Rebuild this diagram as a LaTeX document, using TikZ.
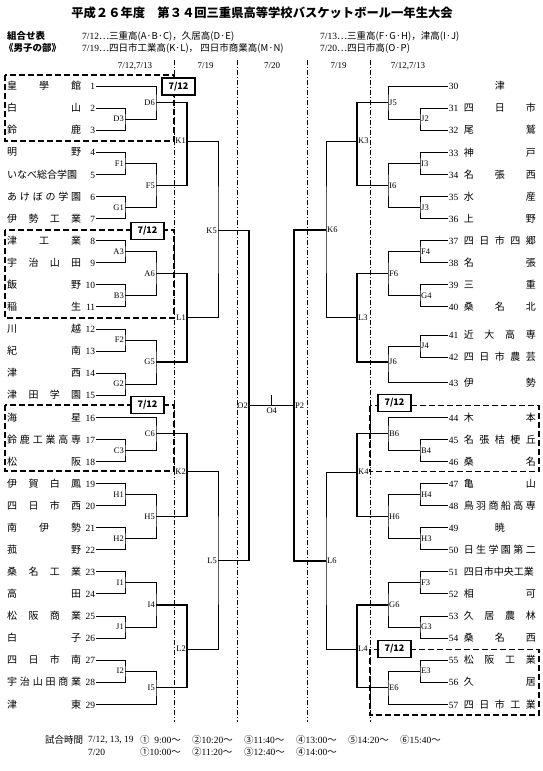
\documentclass[tikz,border=0pt]{standalone}
\usepackage{fontspec}
\setmainfont{Noto Sans CJK JP}
\newfontfamily\latf{Liberation Serif}
\usepackage{tikz}
\usetikzlibrary{positioning}

\begin{document}
\begin{tikzpicture}[x=1pt, y=-1pt,
    team/.style={inner sep=1pt, font=\fontsize{10}{12}\selectfont},
    lblL/.style={anchor=east, inner sep=1pt, font=\latf\fontsize{8.5}{9}\selectfont},
    lblR/.style={anchor=west, inner sep=1pt, font=\latf\fontsize{8.5}{9}\selectfont},
    bline/.style={line width=0.7pt},
    bbold/.style={line width=1.2pt},
    dbox/.style={line width=1.4pt, dash pattern=on 6pt off 3pt},
    sepline/.style={line width=0.8pt, dash pattern=on 5pt off 2pt on 1pt off 2pt},
    daybox/.style={draw, line width=1.3pt, fill=white, minimum width=33pt, minimum height=17pt, inner sep=0pt, font=\bfseries\fontsize{9}{10}\selectfont},
    dayhd/.style={inner sep=0pt, font=\latf\fontsize{9}{10}\selectfont},
    hdtext/.style={anchor=west, inner sep=0pt, font=\fontsize{9.5}{11}\selectfont}]

\useasboundingbox (0,0) rectangle (543,771);

\node[font=\bfseries\fontsize{12.3}{14}\selectfont] (title) at (262,13) {平成２６年度　第３４回三重県高等学校バスケットボール一年生大会};
\node[hdtext, font=\bfseries\fontsize{9.5}{11}\selectfont] (hk1) at (7,36) {組合せ表};
\node[hdtext, font=\bfseries\fontsize{9.5}{11}\selectfont] (hk2) at (4,48) {《男子の部》};
\node[hdtext] (hl1) at (82,36) {{\latf 7/12}…三重高(A·B·C)，久居高(D·E)};
\node[hdtext] (hl2) at (320,36) {{\latf 7/13}…三重高(F·G·H)，津高(I·J)};
\node[hdtext] (hl3) at (82,48) {{\latf 7/19}…四日市工業高(K·L)， 四日市商業高(M·N)};
\node[hdtext] (hl4) at (320,48) {{\latf 7/20}…四日市高(O·P)};

\node[dayhd] (h1) at (135,66) {7/12,7/13};
\node[dayhd] (h2) at (205.5,66) {7/19};
\node[dayhd] (h3) at (272,66) {7/20};
\node[dayhd] (h4) at (338.5,66) {7/19};
\node[dayhd] (h5) at (408,66) {7/12,7/13};

\foreach \x in {174,237,307,370}
    \draw[sepline] (\x,60) -- (\x,722);

\foreach \n/\name in {1/皇 學 館, 2/白 山, 3/鈴 鹿, 4/明 野, 5/いなべ総合学園, 6/あ け ぼ の 学 園,
        7/伊 勢 工 業, 8/津 工 業, 9/宇 治 山 田, 10/飯 野, 11/稲 生, 12/川 越, 13/紀 南, 14/津 西,
        15/津 田 学 園, 16/海 星, 17/鈴 鹿 工 業 高 専, 18/松 阪, 19/伊 賀 白 鳳, 20/四 日 市 西,
        21/南 伊 勢, 22/菰 野, 23/桑 名 工 業, 24/高 田, 25/松 阪 商 業, 26/白 子, 27/四 日 市 南,
        28/宇 治 山 田 商 業, 29/津 東}
    \node[team, anchor=west] (t\n) at (6,{86+22.08*(\n-1)})
        {\makebox[74pt][s]{\name}\hspace{3pt}\makebox[11pt][r]{\latf\fontsize{9.5}{10}\selectfont\n}};

\foreach \n/\r/\name in {30/1/\hfil 津\hfil, 31/2/四 日 市, 32/3/尾 鷲, 33/4/神 戸, 34/5/名 張 西,
        35/6/水 産, 36/7/上 野, 37/8/四 日 市 四 郷, 38/9/名 張, 39/10/三 重, 40/11/桑 名 北,
        41/12.28/近 大 高 専, 42/13.27/四 日 市 農 芸, 43/14.43/伊 勢, 44/16/木 本, 45/17/名 張 桔 梗 丘,
        46/18/桑 名, 47/19/亀 山, 48/20/鳥 羽 商 船 高 専, 49/21/\hfil 暁\hfil, 50/22/日 生 学 園 第 二,
        51/23/四日市中央工業, 52/24/相 可, 53/25/久 居 農 林, 54/26/桑 名 西, 55/27/松 阪 工 業,
        56/28/久 居, 57/29/四 日 市 工 業}
    \node[team, anchor=east] (t\n) at (537,{86+22.08*(\r-1)})
        {\makebox[11pt][l]{\latf\fontsize{9.5}{10}\selectfont\n}\hspace{4pt}\makebox[72pt][s]{\name}};

\foreach \m/\x/\y in {D3/125/119.1, D6/156/102.6, F1/125/163.3, G1/125/207.4, F5/156/185.4, K1/187/141,
        A3/125/251.6, B3/125/295.8, A6/156/273.7, F2/125/339.9, G2/125/384.1, G5/156/362, L1/187/317.8,
        K5/218/230.5, C3/125/450.3, C6/156/433.8, H1/125/494.5, H2/125/538.6, H5/156/516.6, K2/187/471.5,
        I1/125/582.8, J1/125/627, I4/156/604.9, I2/125/671.1, I5/156/687.7, L2/187/649, L5/218/560.5,
        O2/249/405.7}
    {\coordinate (\m) at (\x,\y);
     \node[lblL] (l\m) at (\m) {\m};}

\foreach \m/\x/\y in {J2/420/119.1, J5/388/102.6, I3/420/163.3, J3/420/207.4, I6/388/185.4, K3/357/141,
        F4/420/251.6, G4/420/295.8, F6/388/273.7, J4/420/346, J6/388/362, L3/357/317.8, K6/326/230,
        B4/420/450.3, B6/388/433.8, H4/420/494.5, H3/420/538.6, H6/388/516.6, K4/357/472,
        F3/420/582.8, G3/420/627, G6/388/604.9, E3/420/671.1, E6/388/687.7, L4/357/649, L6/326/561,
        P2/294/405.7}
    {\coordinate (\m) at (\x,\y);
     \node[lblR] (l\m) at (\m) {\m};}

\foreach \a/\m/\b in {t2/D3/t3, t1/D6/D3, t4/F1/t5, t6/G1/t7, F1/F5/G1, t8/A3/t9, t10/B3/t11, A3/A6/B3,
        t12/F2/t13, t14/G2/t15, F2/G5/G2, t17/C3/t18, t16/C6/C3, t19/H1/t20, t21/H2/t22, H1/H5/H2,
        t23/I1/t24, t25/J1/t26, I1/I4/J1, t27/I2/t28, I2/I5/t29, K1/K5/L1, K2/L5/L2,
        t31/J2/t32, t30/J5/J2, t33/I3/t34, t35/J3/t36, I3/I6/J3, t37/F4/t38, t39/G4/t40, F4/F6/G4,
        t41/J4/t42, J4/J6/t43, t45/B4/t46, t44/B6/B4, t47/H4/t48, t49/H3/t50, H4/H6/H3,
        t51/F3/t52, t53/G3/t54, F3/G6/G3, t55/E3/t56, E3/E6/t57, K3/K6/L3, K4/L6/L4}
    \draw[bline] (\a) -| (\m) |- (\b);

\foreach \a/\m/\b in {D6/K1/F5, A6/L1/G5, C6/K2/H5, I4/L2/I5, K5/O2/L5,
        J5/K3/I6, F6/L3/J6, B6/K4/H6, G6/L4/E6, K6/P2/L6}
    \draw[bbold] (\a) -| (\m) |- (\b);

\draw[bbold] (O2) -- (P2);
\coordinate (O4) at (271.7,405.7);
\coordinate (O4t) at (271.7,395);
\draw[bline] (O4) -- (O4t);
\node[below=0.5pt of O4, inner sep=1pt, font=\latf\fontsize{8.5}{9}\selectfont] (lO4) {O4};

\draw[dbox] (5,75) rectangle (174,141);
\draw[dbox] (5,230) rectangle (174,318);
\draw[dbox] (5,405) rectangle (174,471);
\draw[dbox] (370,405.7) rectangle (539,471.7);
\draw[dbox] (370,649.3) rectangle (539,715);

\node[daybox] (b1) at (178.5,86.5) {7/12};
\node[daybox] (b2) at (147.5,231) {7/12};
\node[daybox] (b3) at (147.5,405) {7/12};
\node[daybox] (b4) at (394.5,403) {7/12};
\node[daybox] (b5) at (394.5,649) {7/12};

\node[hdtext] (tm0) at (45,740) {試合時間};
\node[hdtext, font=\latf\fontsize{9.5}{11}\selectfont] (tm1) at (88,740) {7/12, 13, 19};
\node[hdtext, font=\latf\fontsize{9.5}{11}\selectfont] (tm2) at (88,752) {7/20};
\foreach \k/\t in {1/\ \ 9:00, 2/10:20, 3/11:40, 4/13:00, 5/14:20, 6/15:40}
    \node[hdtext] (ta\k) at ({140+52*(\k-1)},740) {\ifcase\k\or①\or②\or③\or④\or⑤\or⑥\fi{\latf\t}～};
\foreach \k/\t in {1/10:00, 2/11:20, 3/12:40, 4/14:00}
    \node[hdtext] (tb\k) at ({140+52*(\k-1)},752) {\ifcase\k\or①\or②\or③\or④\fi{\latf\t}～};
\end{tikzpicture}
\end{document}
